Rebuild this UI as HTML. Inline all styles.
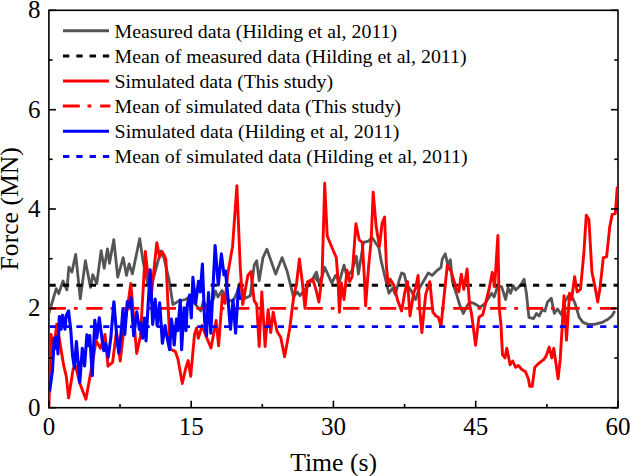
<!DOCTYPE html>
<html><head><meta charset="utf-8"><title>Force vs Time</title>
<style>
html,body{margin:0;padding:0;background:#fff;}
body{width:630px;height:476px;overflow:hidden;font-family:"Liberation Serif",serif;}
svg{display:block;}
text{font-family:"Liberation Serif",serif;fill:#000;}
</style></head><body>
<svg width="630" height="476" viewBox="0 0 630 476">
<rect width="630" height="476" fill="#fff"/>
<rect x="48.9" y="10.3" width="569.1" height="397.4" stroke="#000" stroke-width="1.6" fill="none"/>
<defs><clipPath id="pa"><rect x="48.9" y="10.3" width="569.1" height="397.4"/></clipPath></defs>
<g fill="none" stroke-linejoin="round" stroke-linecap="butt" clip-path="url(#pa)">
<polyline stroke="#555555" stroke-width="2.8" points="48.9,313.5 56.2,288.7 58.7,293.7 63.0,281.0 66.9,289.9 68.9,267.1 71.9,272.1 75.7,254.4 80.3,298.8 85.4,260.7 90.5,287.4 92.8,274.7 96.8,283.6 101.1,250.6 104.2,268.3 107.5,248.8 109.5,263.3 113.8,239.6 117.7,277.2 123.2,257.7 126.5,275.4 129.1,263.8 132.4,273.9 139.7,238.6 143,261 148,285 153.2,279 160.8,251 164,258 169.1,280 172.9,304.6 179.2,300.8 185.6,299.5 189.4,297.0 195.7,304.6 200.8,311.0 203.4,300.8 206,306 210,303 213.5,299 215.5,291 218,297 222,290.5 226,297 230,301 233.5,300 237,293 240.2,283.0 245.3,298.3 250.3,295.7 254.2,265.2 256.7,260.7 259.2,280.5 263.0,257.6 266.9,249.2 275.7,274.1 282.1,257.6 287.2,271.6 293.5,297.0 297.3,291.9 299.9,295.7 306.2,288.1 313.8,276.7 316.4,272.3 319.4,283.0 314.0,276.7 316.5,272.3 319.6,284.3 324.7,267.3 331.8,283.0 335.6,275.4 339.4,281.7 344.0,265.2 347.0,276.7 352.1,270.3 356.4,256.3 358.4,274.1 363.5,242.4 368.6,241.1 371.9,237.3 376.2,243.7 378.8,247.5 381.3,261.4 386.4,283.0 388.9,293.2 392.7,288.1 395.3,294.4 399.1,280.5 401.6,272.9 404.2,274.1 406.7,284.3 411.8,291.9 415.6,299.5 419.4,288.1 423.2,281.7 428.3,272.9 432.1,275.4 437.2,270.3 441.0,267.3 442.3,258.9 445.3,253.8 447.8,265.2 450.4,259.7 452.4,281.7 456.2,293.2 460.0,305.9 463.3,313.5 467.7,304.6 470.0,302.1 473.8,303.3 480.2,307.1 485.2,303.3 491.6,293.2 494.1,297.0 497.9,285.6 501.7,286.8 505.6,299.5 508.1,288.1 510.6,293.2 513.2,285.6 515.7,290.1 520.8,285.0 524.1,279.2 526.4,293.2 528.9,317.3 533.5,318.6 536.5,313.5 539.1,316.0 542.4,309.7 544.9,311.0 547.5,302.1 551.3,298.3 554.3,313.5 557.6,308.9 561.4,314.8 565.2,300.8 569.6,294.4 572.9,298.3 575.4,304.6 579.2,317.3 583.0,322.4 588.1,324.4 594.4,324.4 602.1,322.4 608.4,319.1 612.2,315.5 614.8,311.0"/>
<line x1="49.5" y1="285.2" x2="618.0" y2="285.2" stroke="#000" stroke-width="2.9" stroke-dasharray="6.2 7.23"/>
<polyline stroke="#ff0000" stroke-width="2.9" points="48.9,407.6 51.1,334.4 53.7,349.7 56.7,324.3 59.2,338.3 63.8,366.2 66.3,376.3 68.6,397.9 73.2,368.7 75.7,366.2 79.6,382.7 85.9,399.2 92.3,363.7 96.1,340.8 100.4,348.4 105.0,334.4 108.0,366.2 112.6,362.4 116.4,331.9 120.2,361.1 124.0,328.1 127.8,305.2 130.8,283.4 136.7,353.5 140.5,335.7 145.3,251.5 150.8,300 156.8,242.6 159.6,257.2 162.1,251.5 164.6,256 165.9,259.7 167.8,300.8 170.3,349 175.4,351.6 178,359.2 182.3,383.5 185.6,368.7 188.1,360.6 190.7,376.3 194.5,334.4 196.5,328.1 198.3,338.3 202.1,325.6 205.9,335.7 211.0,347.9 216.1,320.5 218.6,345.9 222.4,295.1 225.0,303.3 227.5,275.4 232.6,246.2 236.9,185.7 240.2,266.5 242.7,304.6 247.8,275.4 250.9,271.6 254.2,300.8 256.7,304.6 259.2,346.5 261.8,291.9 265.1,346.5 268.1,309.7 270.7,332.5 273.2,312.2 277.0,331.3 280.8,337.6 284.6,356.7 289.7,328.7 293.5,298.3 296.6,283.0 299.4,258.9 302.4,283.0 305.0,308.4 307.5,281.7 312.6,279.2 315.6,288.1 318.9,302.1 322.1,275.4 324.7,183.2 327.2,236.0 333.0,250.0 336.3,257.6 338.1,281.7 339.4,312.2 341.4,283.0 344.0,299.5 347.0,270.3 349.6,281.7 352.1,276.7 355.9,223.8 359.2,239.8 362.3,242.4 364.3,276.7 365.6,305.9 368.6,266.5 371.1,241.1 373.2,192.3 376.2,227.1 379.5,246.2 382.1,223.3 384.6,217.0 386.4,266.5 388.2,284.3 390.2,279.2 394.0,285.6 397.8,300.8 401.6,311.0 404.9,291.9 407.5,281.7 410.0,316.0 413.6,293.2 415.6,288.1 418.1,275.4 419.4,305.9 421.9,332.5 425.7,294.4 429.8,281.7 432.9,312.2 435.9,316.0 438.4,317.3 441.0,326.2 444.0,297.0 447.3,265.2 451.1,271.6 456.2,288.1 458.8,291.9 461.3,274.1 463.8,289.4 467.1,269.0 469.4,303.3 471.5,313.5 475.6,345.2 478.9,317.3 482.7,314.8 489.0,289.4 492.3,272.3 494.6,286.8 497.9,235.5 499.2,307.6 501.0,325.4 502.5,354.6 505.0,357.9 506.8,348.3 510.1,364.8 512.7,361.0 515.7,367.3 518.3,365.5 522.1,369.8 525.4,371.6 528.4,378.7 529.7,386.3 532.2,386.3 534.8,367.3 538.6,363.5 543.7,359.7 546.2,355.9 549.2,347.0 551.8,357.9 553.8,348.3 558.1,378.7 560.2,359.7 561.9,331.7 564.0,295.7 566.5,340.2 569.6,293.2 571.6,299.5 574.6,276.7 577.2,291.9 580.5,289.4 583.8,253.8 586.3,215.2 588.9,219.5 591.9,271.6 595.7,290.6 597.7,302.1 600.0,288.1 603.3,257.6 606.6,256.9 609.7,227.1 612.2,214.4 615.3,213.7 617.3,186.5"/>
<line x1="49.5" y1="308.4" x2="618.0" y2="308.4" stroke="#ff0000" stroke-width="2.9" stroke-dasharray="16.4 8 3.7 8.6"/>
<polyline stroke="#0000ff" stroke-width="3.1" points="49.6,391.6 52.4,371 54.3,338.1 55.5,348.3 56.8,336.8 58,354 59.3,316.5 61.2,329.2 62.5,315.2 65,329.2 66.3,315.2 68.6,310.8 70.8,330.5 72.5,355 74.4,368.2 76.4,341.5 79.8,382.5 82.3,348.3 84.6,366 86.9,334.9 88.5,345.7 89.8,335.6 92.3,375.8 94.8,320.3 96.8,338.1 99.3,317.8 101.9,338.1 103.8,350.8 105.7,343.2 108.2,357.1 110.8,338.1 113.9,301.7 117.1,340.6 118.8,353 120.9,335 123,308.5 124.8,334.5 127.3,301.5 129.2,306.6 131.1,297.7 133.7,335.8 136.8,311.7 139.4,329.4 140.6,323.1 142.5,338.3 144.4,318 146,340.9 150.2,269.8 152.7,324.4 155.2,299 157.1,325.6 159.7,302.8 162.4,343.3 165.1,325.5 167,336.9 169.6,349.6 171.4,319.1 172.7,328 174.2,345 176.5,319.1 177.8,330.6 180.3,300.1 181.6,349.6 184.1,307.7 186,330.6 187.3,305.2 189.6,295 191.3,317.9 192.9,277.4 195.7,303.3 198.5,281.2 200.3,292 202.4,264 204.6,321.1 206.5,335.6 208.5,292.5 210.8,333.1 215.1,245.6 218.3,285 221.4,253.9 224,275 225.5,271 227.8,296 229,312 230.5,329.3 233,300.1 235.6,333.1 238.4,288.2 239.8,300"/>
<line x1="49.5" y1="326.6" x2="618.0" y2="326.6" stroke="#0000ff" stroke-width="2.9" stroke-dasharray="6.2 7.23"/>
</g>
<g stroke="#000" stroke-width="1.6" fill="none"><line x1="48.9" y1="407.7" x2="48.9" y2="400.7"/><line x1="191.2" y1="407.7" x2="191.2" y2="400.7"/><line x1="333.4" y1="407.7" x2="333.4" y2="400.7"/><line x1="475.7" y1="407.7" x2="475.7" y2="400.7"/><line x1="618.0" y1="407.7" x2="618.0" y2="400.7"/><line x1="120.0" y1="407.7" x2="120.0" y2="404.0"/><line x1="262.3" y1="407.7" x2="262.3" y2="404.0"/><line x1="404.6" y1="407.7" x2="404.6" y2="404.0"/><line x1="546.9" y1="407.7" x2="546.9" y2="404.0"/><line x1="48.9" y1="407.7" x2="55.9" y2="407.7"/><line x1="618.0" y1="407.7" x2="611.0" y2="407.7"/><line x1="48.9" y1="308.4" x2="55.9" y2="308.4"/><line x1="618.0" y1="308.4" x2="611.0" y2="308.4"/><line x1="48.9" y1="209.0" x2="55.9" y2="209.0"/><line x1="618.0" y1="209.0" x2="611.0" y2="209.0"/><line x1="48.9" y1="109.7" x2="55.9" y2="109.7"/><line x1="618.0" y1="109.7" x2="611.0" y2="109.7"/><line x1="48.9" y1="10.3" x2="55.9" y2="10.3"/><line x1="618.0" y1="10.3" x2="611.0" y2="10.3"/><line x1="48.9" y1="358.0" x2="52.6" y2="358.0"/><line x1="618.0" y1="358.0" x2="614.3" y2="358.0"/><line x1="48.9" y1="258.7" x2="52.6" y2="258.7"/><line x1="618.0" y1="258.7" x2="614.3" y2="258.7"/><line x1="48.9" y1="159.3" x2="52.6" y2="159.3"/><line x1="618.0" y1="159.3" x2="614.3" y2="159.3"/><line x1="48.9" y1="60.0" x2="52.6" y2="60.0"/><line x1="618.0" y1="60.0" x2="614.3" y2="60.0"/></g>
<g fill="none" stroke-width="3">
<line x1="63" y1="30.7" x2="109" y2="30.7" stroke="#555555"/>
<line x1="63" y1="55.9" x2="110.6" y2="55.9" stroke="#000" stroke-dasharray="6.3 7"/>
<line x1="63" y1="81.0" x2="109" y2="81.0" stroke="#ff0000"/>
<line x1="62.8" y1="106.1" x2="110.3" y2="106.1" stroke="#ff0000" stroke-dasharray="17 7.7 3.8 8.9"/>
<line x1="63" y1="131.2" x2="109" y2="131.2" stroke="#0000ff"/>
<line x1="63" y1="156.4" x2="110.6" y2="156.4" stroke="#0000ff" stroke-dasharray="6.3 7"/>
</g>
<g font-size="19.85px"><text x="114.6" y="37.7">Measured data (Hilding et al, 2011)</text><text x="114.6" y="62.9">Mean of measured data (Hilding et al, 2011)</text><text x="114.6" y="88.0" letter-spacing="-0.055">Simulated data (This study)</text><text x="114.6" y="113.1" letter-spacing="-0.055">Mean of simulated data (This study)</text><text x="114.6" y="138.2">Simulated data (Hilding et al, 2011)</text><text x="114.6" y="163.4">Mean of simulated data (Hilding et al, 2011)</text></g>
<g font-size="25px"><text x="48.9" y="434.8" text-anchor="middle">0</text><text x="191.2" y="434.8" text-anchor="middle">15</text><text x="333.4" y="434.8" text-anchor="middle">30</text><text x="475.7" y="434.8" text-anchor="middle">45</text><text x="618.0" y="434.8" text-anchor="middle">60</text><text x="40.4" y="415.5" text-anchor="end">0</text><text x="40.4" y="316.2" text-anchor="end">2</text><text x="40.4" y="216.8" text-anchor="end">4</text><text x="40.4" y="117.5" text-anchor="end">6</text><text x="40.4" y="18.1" text-anchor="end">8</text></g>
<text x="333.6" y="470.8" text-anchor="middle" font-size="25.7px">Time (s)</text>
<text transform="translate(17.8,208.8) rotate(-90)" text-anchor="middle" font-size="25.7px">Force (MN)</text>
</svg>
</body></html>
